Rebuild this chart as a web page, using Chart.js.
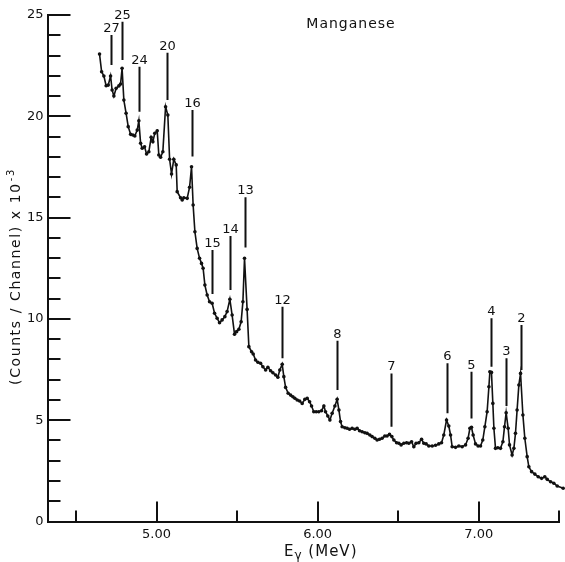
<!DOCTYPE html>
<html>
<head>
<meta charset="utf-8">
<script src="https://cdn.jsdelivr.net/npm/chart.js@4.4.1/dist/chart.umd.min.js"></script>
<style>
  html, body { margin: 0; padding: 0; background: #fff; }
  #wrap { width: 565px; height: 562px; }
</style>
</head>
<body>
<div id="wrap"><canvas id="spectrum"></canvas></div>
<script>
// gamma energy (MeV) of each plotted channel
const energy = [
  4.646, 4.659, 4.673, 4.687, 4.700, 4.7145, 4.724, 4.735, 4.749, 4.766,
  4.7765, 4.786, 4.797, 4.811, 4.824, 4.839, 4.853, 4.865, 4.880, 4.890,
  4.901, 4.911, 4.9255, 4.938, 4.952, 4.9665, 4.977, 4.989, 5.004, 5.014,
  5.025, 5.039, 5.056, 5.070, 5.081, 5.093, 5.107, 5.122, 5.128, 5.149,
  5.159, 5.1695, 5.190, 5.205, 5.217, 5.227, 5.238, 5.252, 5.267, 5.279,
  5.289, 5.300, 5.314, 5.329, 5.345, 5.360, 5.376, 5.391, 5.407, 5.424,
  5.438, 5.455, 5.469, 5.484, 5.497, 5.511, 5.525, 5.536, 5.546, 5.562,
  5.573, 5.590, 5.600, 5.6145, 5.629, 5.6455, 5.660, 5.677, 5.691, 5.708,
  5.722, 5.739, 5.753, 5.765, 5.780, 5.790, 5.801, 5.817, 5.832, 5.846,
  5.8585, 5.873, 5.888, 5.904, 5.9205, 5.935, 5.950, 5.962, 5.976, 5.991,
  6.007, 6.024, 6.0385, 6.049, 6.063, 6.076, 6.090, 6.107, 6.121, 6.132,
  6.142, 6.152, 6.169, 6.183, 6.198, 6.214, 6.231, 6.245, 6.260, 6.276,
  6.293, 6.307, 6.324, 6.338, 6.355, 6.369, 6.384, 6.400, 6.417, 6.431,
  6.446, 6.4605, 6.473, 6.490, 6.504, 6.518, 6.535, 6.552, 6.566, 6.583,
  6.597, 6.611, 6.628, 6.645, 6.659, 6.6735, 6.690, 6.711, 6.732, 6.752,
  6.769, 6.783, 6.800, 6.814, 6.825, 6.835, 6.856, 6.8765, 6.897, 6.918,
  6.934, 6.945, 6.955, 6.965, 6.980, 6.996, 7.011, 7.025, 7.038, 7.052,
  7.063, 7.069, 7.079, 7.0875, 7.094, 7.104, 7.1185, 7.135, 7.150, 7.160,
  7.170, 7.1825, 7.191, 7.207, 7.218, 7.228, 7.238, 7.249, 7.2595, 7.274,
  7.286, 7.3005, 7.311, 7.328, 7.348, 7.369, 7.390, 7.410, 7.425, 7.446,
  7.466, 7.487, 7.524
];

// counts per channel, in thousands
const counts = [
  23.07, 22.20, 21.99, 21.51, 21.54, 21.99, 21.30, 21.00, 21.38, 21.50,
  21.59, 22.37, 20.80, 20.15, 19.49, 19.11, 19.08, 19.03, 19.32, 19.78,
  18.67, 18.42, 18.50, 18.14, 18.25, 18.96, 18.75, 19.16, 19.29, 18.09,
  17.98, 18.25, 20.47, 20.06, 17.88, 17.15, 17.88, 17.60, 16.28, 15.98,
  15.87, 15.98, 15.95, 16.50, 17.51, 15.62, 14.30, 13.48, 12.99, 12.74,
  12.50, 11.67, 11.18, 10.85, 10.77, 10.28, 10.03, 9.81, 9.95, 10.11,
  10.36, 10.97, 10.19, 9.24, 9.37, 9.49, 9.86, 10.85, 12.99, 10.47,
  8.63, 8.38, 8.27, 7.97, 7.86, 7.81, 7.64, 7.48, 7.61, 7.44,
  7.34, 7.23, 7.12, 7.48, 7.76, 7.15, 6.62, 6.33, 6.24, 6.16,
  6.08, 6.00, 5.95, 5.83, 6.03, 6.08, 5.91, 5.70, 5.42, 5.42,
  5.42, 5.47, 5.70, 5.42, 5.21, 5.01, 5.34, 5.70, 6.03, 5.50,
  4.93, 4.68, 4.63, 4.60, 4.55, 4.60, 4.55, 4.60, 4.48, 4.43,
  4.38, 4.35, 4.27, 4.19, 4.11, 4.02, 4.06, 4.11, 4.22, 4.22,
  4.30, 4.19, 4.02, 3.89, 3.86, 3.78, 3.86, 3.89, 3.86, 3.94,
  3.69, 3.86, 3.89, 4.06, 3.86, 3.83, 3.73, 3.73, 3.76, 3.83,
  3.89, 4.27, 5.01, 4.71, 4.27, 3.69, 3.66, 3.73, 3.69, 3.78,
  4.11, 4.60, 4.65, 4.27, 3.83, 3.73, 3.73, 4.02, 4.68, 5.42,
  6.65, 7.39, 7.36, 5.83, 4.60, 3.61, 3.64, 3.61, 3.94, 4.68,
  5.37, 4.60, 3.78, 3.28, 3.61, 4.35, 5.50, 6.74, 7.31, 5.26,
  4.11, 3.20, 2.70, 2.46, 2.34, 2.21, 2.13, 2.21, 2.08, 1.96,
  1.89, 1.75, 1.64
];

// numbered lines: marker energy, bottom and top of the marker stroke
const peakIds    = ['27', '25', '24', '20', '16', '15', '14', '13', '12', '8', '7', '6', '5', '4', '3', '2'];
const peakEnergy = [4.7145, 4.7865, 4.890, 5.062, 5.217, 5.345, 5.455, 5.546, 5.780, 6.121, 6.4525, 6.800, 6.949, 7.073, 7.170, 7.2595];
const peakLow    = [22.53, 22.78, 20.23, 20.80, 18.01, 11.23, 11.43, 13.53, 8.06, 6.49, 4.68, 5.34, 5.09, 7.64, 5.70, 7.48];
const peakHigh   = [24.01, 24.67, 22.45, 23.14, 20.31, 13.40, 14.09, 16.00, 10.60, 8.92, 7.31, 7.81, 7.39, 10.03, 8.06, 9.70];

// axis ticks
const xMajor = [5, 6, 7];
const xMinor = [4.5, 5.5, 6.5, 7.5];
const xTickLabels = ['5.00', '6.00', '7.00'];
const yMajor = [0, 5, 10, 15, 20, 25];

const ink = '#111';
const face = '"DejaVu Sans", "Liberation Sans", sans-serif';

// ticks point into the plot, plus the peak markers and the titles
const decorations = {
  id: 'decorations',
  afterDatasetsDraw(chart) {
    const { ctx, chartArea: a, scales: { x, y } } = chart;
    ctx.save();
    ctx.strokeStyle = ink;
    ctx.fillStyle = ink;
    ctx.lineWidth = 2;
    ctx.lineCap = 'butt';

    ctx.beginPath();
    for (let v = 1; v <= 25; v++) {
      const py = Math.round(y.getPixelForValue(v));
      const len = v % 5 === 0 ? 23 : 13;
      ctx.moveTo(a.left, py);
      ctx.lineTo(a.left + len, py);
    }
    xMajor.forEach(v => {
      const px = Math.round(x.getPixelForValue(v));
      ctx.moveTo(px, a.bottom);
      ctx.lineTo(px, a.bottom - 20);
    });
    xMinor.forEach(v => {
      const px = Math.round(x.getPixelForValue(v));
      ctx.moveTo(px, a.bottom);
      ctx.lineTo(px, a.bottom - 11);
    });
    ctx.stroke();

    // peak markers
    ctx.font = '13px ' + face;
    ctx.textAlign = 'center';
    ctx.textBaseline = 'alphabetic';
    ctx.beginPath();
    peakIds.forEach((id, i) => {
      const px = Math.round(x.getPixelForValue(peakEnergy[i])) + 0.5;
      const top = y.getPixelForValue(peakHigh[i]);
      ctx.moveTo(px, y.getPixelForValue(peakLow[i]));
      ctx.lineTo(px, top);
      ctx.fillText(id, px, top - 3);
    });
    ctx.stroke();

    // title
    ctx.font = '14px ' + face;
    ctx.letterSpacing = '1px';
    ctx.textAlign = 'center';
    ctx.fillText('Manganese', 351, 28);

    // x axis title: E with subscript gamma
    ctx.textAlign = 'left';
    let cx = 284;
    ctx.font = '15px ' + face;
    ctx.fillText('E', cx, 556);
    cx += ctx.measureText('E').width;
    ctx.font = '12px ' + face;
    ctx.fillText('γ', cx, 559);
    cx += ctx.measureText('γ').width;
    ctx.font = '15px ' + face;
    ctx.fillText(' (MeV)', cx, 556);

    // y axis title, rotated, with the 10^-3 exponent raised
    ctx.translate(19.5, 277);
    ctx.rotate(-Math.PI / 2);
    ctx.letterSpacing = '1.6px';
    const main = '(Counts / Channel) x 10';
    ctx.font = '14px ' + face;
    const w1 = ctx.measureText(main).width;
    ctx.font = '10px ' + face;
    const w2 = ctx.measureText('-3').width;
    const sx = -(w1 + w2) / 2;
    ctx.font = '14px ' + face;
    ctx.fillText(main, sx, 0);
    ctx.font = '10px ' + face;
    ctx.fillText('-3', sx + w1 + 1, -6);
    ctx.restore();
  }
};

new Chart(document.getElementById('spectrum'), {
  type: 'line',
  data: {
    datasets: [{
      data: energy.map((e, i) => ({ x: e, y: counts[i] })),
      borderColor: ink,
      borderWidth: 1.6,
      pointRadius: 1.8,
      pointBackgroundColor: ink,
      pointBorderWidth: 0,
      tension: 0,
      clip: false
    }]
  },
  options: {
    responsive: true,
    maintainAspectRatio: false,
    devicePixelRatio: 1,
    animation: false,
    layout: { padding: { top: 15, right: 5.7, left: 0, bottom: 0 } },
    plugins: { legend: { display: false }, tooltip: { enabled: false } },
    scales: {
      x: {
        type: 'linear',
        min: 4.323,
        max: 7.5,
        afterBuildTicks: s => { s.ticks = xMajor.map(v => ({ value: v })); },
        afterFit: s => { s.height = 40.5; },
        ticks: {
          callback: v => xTickLabels[xMajor.indexOf(v)],
          color: ink,
          font: { family: face, size: 13 },
          padding: 5,
          maxRotation: 0,
          autoSkip: false
        },
        grid: { display: false, drawTicks: false },
        border: { display: true, color: ink, width: 2 }
      },
      y: {
        min: 0,
        max: 25,
        afterBuildTicks: s => { s.ticks = yMajor.map(v => ({ value: v })); },
        afterFit: s => { s.width = 47.5; },
        ticks: {
          color: ink,
          font: { family: face, size: 13 },
          padding: 4
        },
        grid: { display: false, drawTicks: false },
        border: { display: true, color: ink, width: 2 }
      }
    }
  },
  plugins: [decorations]
});
</script>
</body>
</html>
